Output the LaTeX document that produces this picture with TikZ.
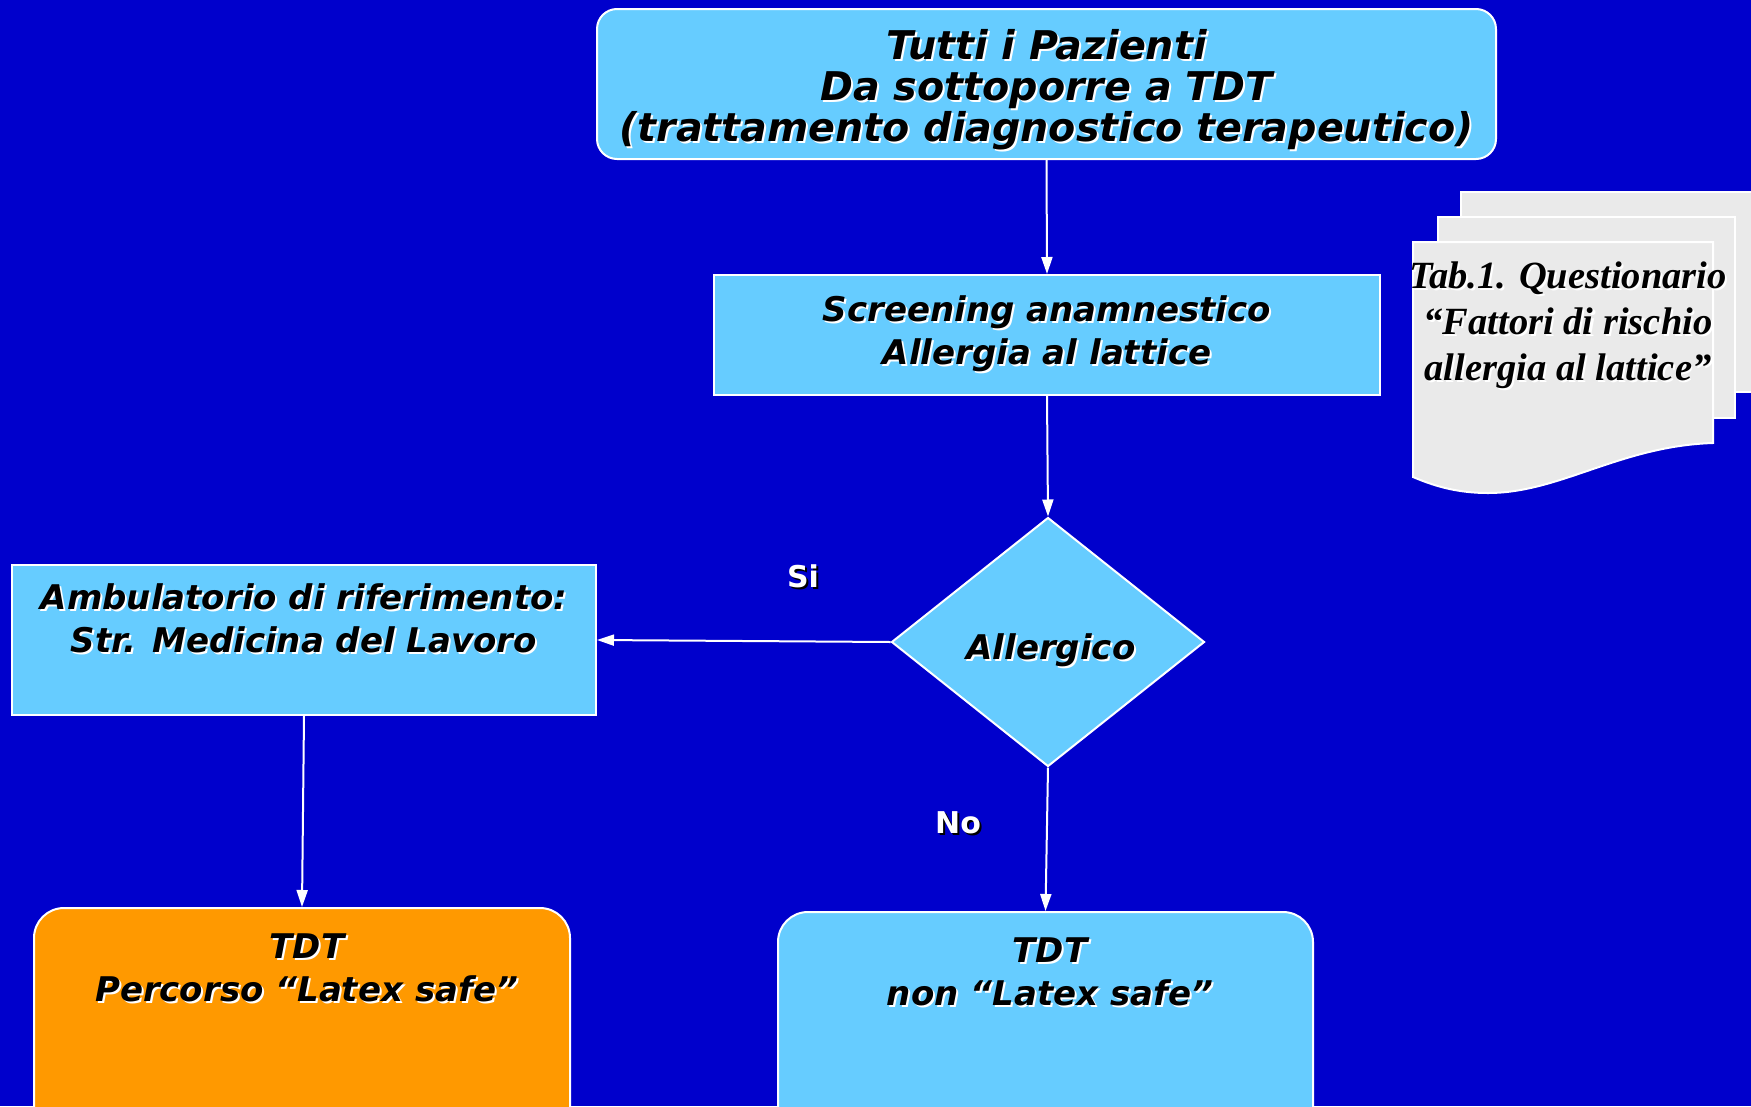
\documentclass[tikz,border=0pt]{standalone}
\usepackage{fontspec}
\newfontfamily\dv{DejaVu Sans}
\newfontfamily\tms{Liberation Serif}
\usetikzlibrary{shapes.geometric,arrows.meta}
\definecolor{bg}{RGB}{0,0,204}
\definecolor{boxblue}{RGB}{102,204,255}
\definecolor{boxorange}{RGB}{255,153,0}
\definecolor{docgray}{RGB}{234,234,234}
\newcommand{\shw}[1]{\rlap{\kern2pt\raisebox{-2pt}{\color{white}#1}}#1}
\newcommand{\shb}[1]{\rlap{\kern2pt\raisebox{-2pt}{\color{black}#1}}#1}
\tikzset{
  boxbase/.style={draw=white, line width=2pt, inner sep=0pt, text=black, align=center},
  bluebox/.style={boxbase, fill=boxblue},
  orangebox/.style={boxbase, fill=boxorange},
  bigtxt/.style={font=\dv\bfseries\itshape\fontsize{39.6}{41}\selectfont},
  midtxt/.style={font=\dv\bfseries\itshape\fontsize{34}{43}\selectfont},
  plaintxt/.style={inner sep=0pt, text=black, align=center},
  lbl/.style={inner sep=0pt, text=white, font=\dv\bfseries\fontsize{30}{34}\selectfont},
  conn/.style={draw=white, line width=2pt, -{Triangle[length=17pt,width=11pt]}},
  docpage/.style={draw=white, line width=2pt, fill=docgray},
  doctxt/.style={inner sep=0pt, text=black, align=center, font=\tms\bfseries\itshape\fontsize{38.5}{46}\selectfont}
}
\begin{document}
\begin{tikzpicture}[x=1pt,y=-1pt]
\useasboundingbox[fill=bg] (0,0) rectangle (1751,1106);

% document stack
\path[docpage] (1461,192) -- (1770,192) -- (1770,392) -- (1461,392) -- cycle;
\path[docpage] (1438,217) -- (1735,217) -- (1735,418) -- (1438,418) -- cycle;
\path[docpage] (1413,242) -- (1713,242) -- (1713,443)
   .. controls (1620,446) and (1560,493) .. (1488,493)
   .. controls (1455,493) and (1432,485) .. (1413,477) -- cycle;
\node[doctxt] (doc) at (1568,326) {\shw{Tab.1. Questionario}\\\shw{“Fattori di rischio}\\\shw{allergia al lattice”}};

% boxes
\node[bluebox, rounded corners=20pt, minimum width=899pt, minimum height=150pt] (top) at (1046.5,84) {};
\node[plaintxt, bigtxt] (toptxt) at (1046.5,91)
  {\shw{Tutti i Pazienti}\\\shw{Da sottoporre a TDT}\\\shw{(trattamento diagnostico terapeutico)}};
\node[bluebox, minimum width=666pt, minimum height=120pt] (scr) at (1047,335) {};
\node[plaintxt, midtxt] (scrtxt) at (1047,334.5) {\shw{Screening anamnestico}\\\shw{Allergia al lattice}};
\node[bluebox, diamond, minimum width=313pt, minimum height=249pt] (dia) at (1048,642) {};
\node[plaintxt, midtxt] (diatxt) at (1051,651) {\shw{Allergico}};
\node[bluebox, minimum width=584pt, minimum height=150pt] (amb) at (304,640) {};
\node[plaintxt, midtxt] (ambtxt) at (304,619) {\shw{Ambulatorio di riferimento:}\\\shw{Str. Medicina del Lavoro}};
\node[orangebox, rounded corners=30pt, minimum width=536pt, minimum height=230pt] (orb) at (302,1023) {};
\node[plaintxt, midtxt] (orbtxt) at (307,969) {\shw{TDT}\\\shw{Percorso “Latex safe”}};
\node[bluebox, rounded corners=30pt, minimum width=535pt, minimum height=226pt] (blb) at (1045.5,1025) {};
\node[plaintxt, midtxt] (blbtxt) at (1050,973) {\shw{TDT}\\\shw{non “Latex safe”}};

% labels
\node[lbl] (si) at (803,577) {\shb{Si}};
\node[lbl] (no) at (958,824) {\shb{No}};

% connectors
\draw[conn] (top.south) -- (scr.north);
\draw[conn] (scr.south) -- (dia.north);
\draw[conn] (dia.west) -- (amb.east);
\draw[conn] (amb.south) -- (orb.north);
\draw[conn] (dia.south) -- (blb.north);
\end{tikzpicture}
\end{document}
